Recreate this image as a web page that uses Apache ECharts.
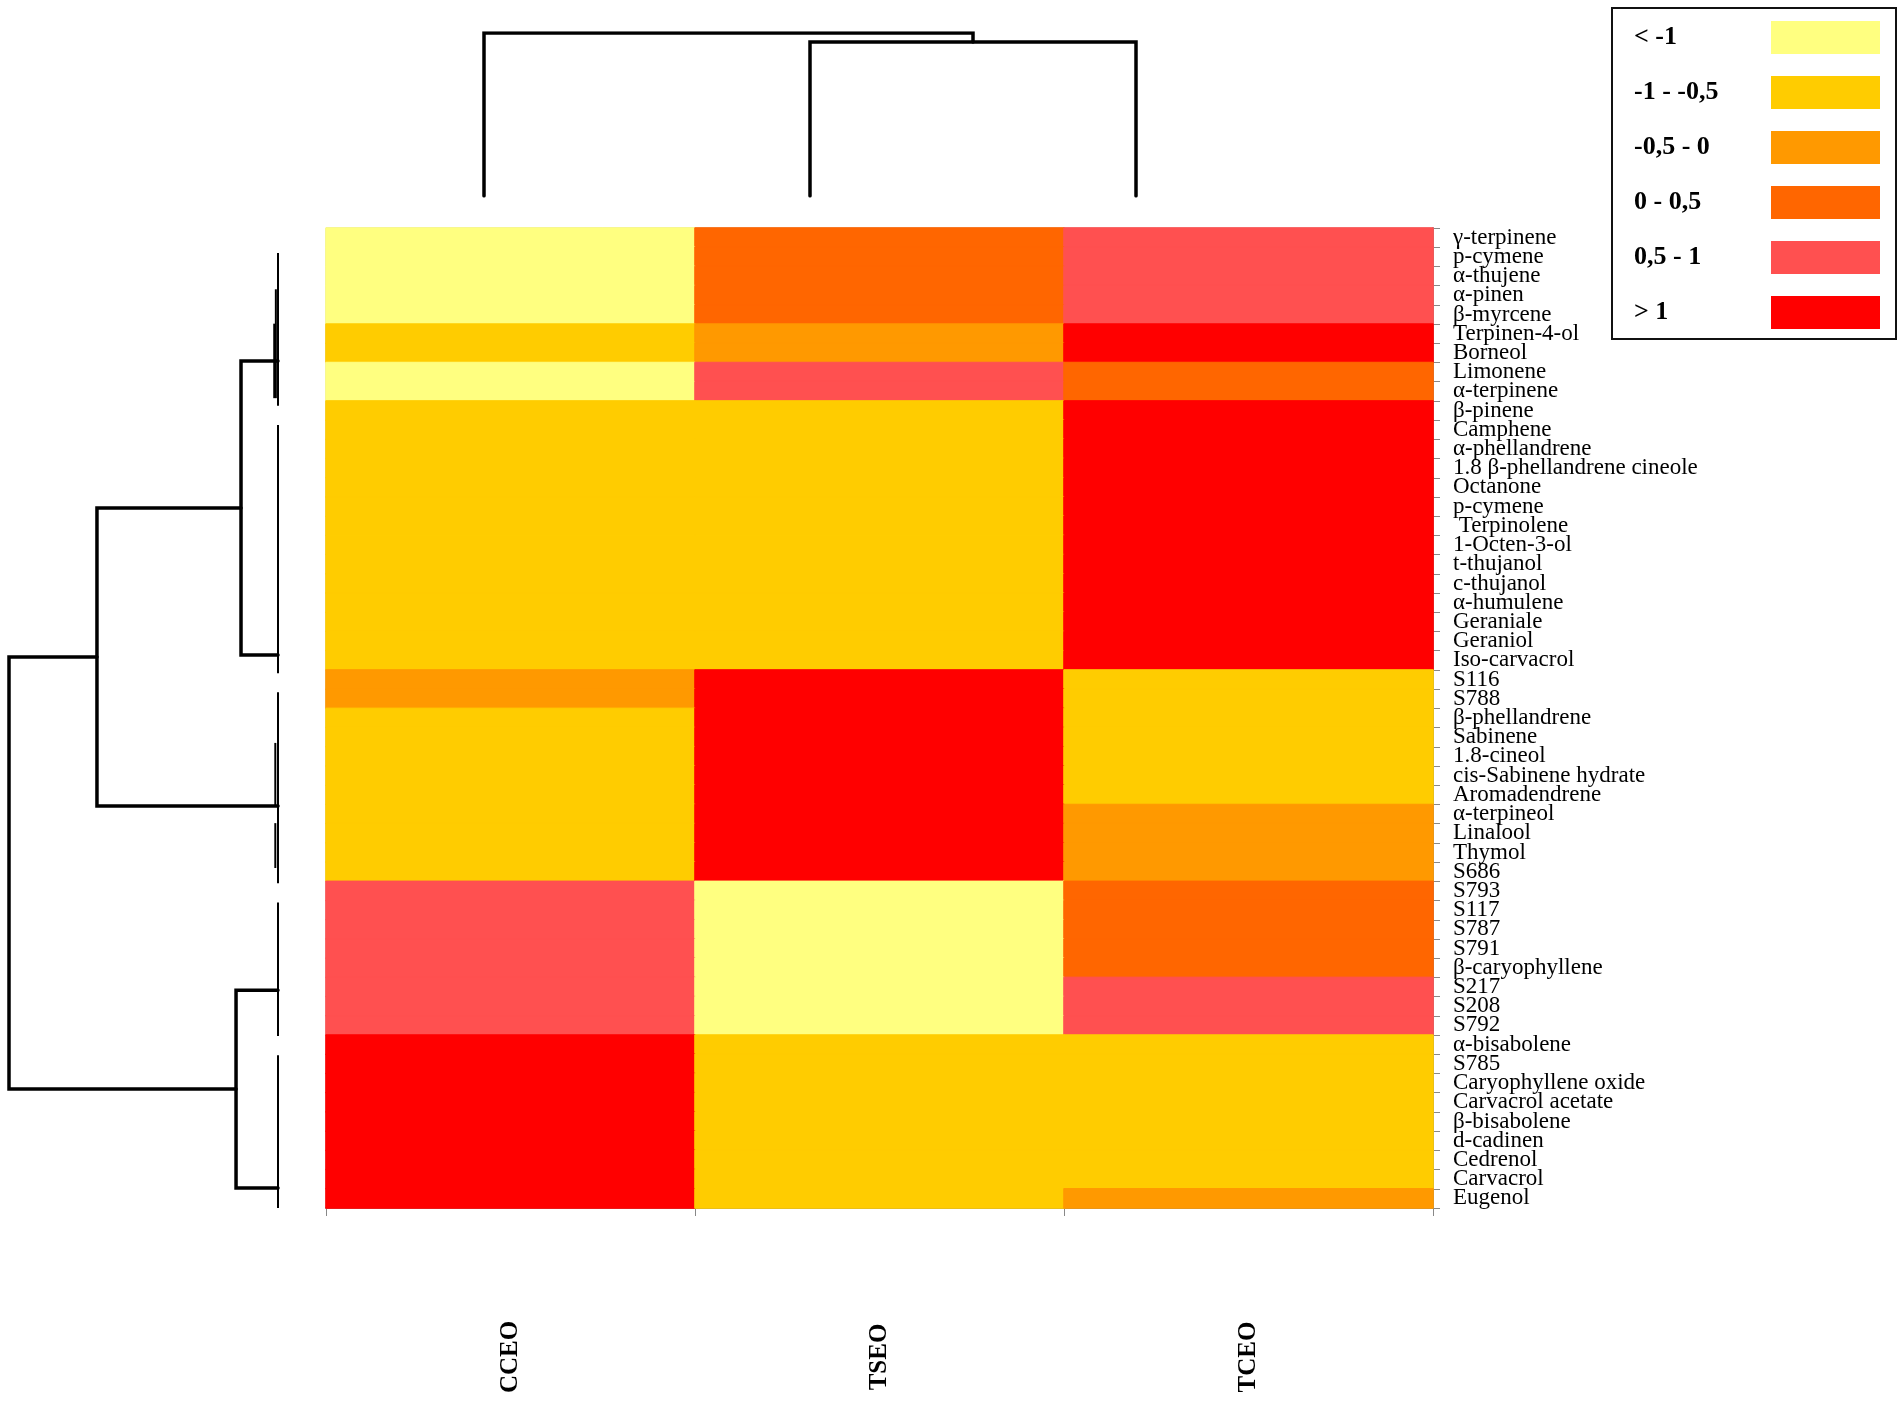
<!DOCTYPE html>
<html>
<head>
<meta charset="utf-8">
<script src="https://cdn.jsdelivr.net/npm/echarts@6/dist/echarts.min.js"></script>
<style>
html, body { margin: 0; padding: 0; background: #fff; }
#main { width: 1902px; height: 1401px; }
</style>
</head>
<body>
<div id="main"></div>
<script>
// essential oils (columns)
var samples = ['CCEO', 'TSEO', 'TCEO'];

// compounds (rows, top to bottom)
var compounds = ['γ-terpinene', 'p-cymene', 'α-thujene', 'α-pinen', 'β-myrcene', 'Terpinen-4-ol', 'Borneol',
    'Limonene', 'α-terpinene', 'β-pinene', 'Camphene', 'α-phellandrene', '1.8 β-phellandrene cineole', 'Octanone',
    'p-cymene', ' Terpinolene', '1-Octen-3-ol', 't-thujanol', 'c-thujanol', 'α-humulene', 'Geraniale', 'Geraniol',
    'Iso-carvacrol', 'S116', 'S788', 'β-phellandrene', 'Sabinene', '1.8-cineol', 'cis-Sabinene hydrate',
    'Aromadendrene', 'α-terpineol', 'Linalool', 'Thymol', 'S686', 'S793', 'S117', 'S787', 'S791',
    'β-caryophyllene', 'S217', 'S208', 'S792', 'α-bisabolene', 'S785', 'Caryophyllene oxide',
    'Carvacrol acetate', 'β-bisabolene', 'd-cadinen', 'Cedrenol', 'Carvacrol', 'Eugenol'];

// class of each cell: 0 '< -1', 1 '-1 - -0,5', 2 '-0,5 - 0', 3 '0 - 0,5', 4 '0,5 - 1', 5 '> 1'
var cceo = [0, 0, 0, 0, 0, 1, 1, 0, 0, 1, 1, 1, 1, 1, 1, 1, 1, 1, 1, 1, 1, 1, 1, 2, 2, 1,
    1, 1, 1, 1, 1, 1, 1, 1, 4, 4, 4, 4, 4, 4, 4, 4, 5, 5, 5, 5, 5, 5, 5, 5, 5];
var tseo = [3, 3, 3, 3, 3, 2, 2, 4, 4, 1, 1, 1, 1, 1, 1, 1, 1, 1, 1, 1, 1, 1, 1, 5, 5, 5,
    5, 5, 5, 5, 5, 5, 5, 5, 0, 0, 0, 0, 0, 0, 0, 0, 1, 1, 1, 1, 1, 1, 1, 1, 1];
var tceo = [4, 4, 4, 4, 4, 5, 5, 3, 3, 5, 5, 5, 5, 5, 5, 5, 5, 5, 5, 5, 5, 5, 5, 1, 1, 1,
    1, 1, 1, 1, 2, 2, 2, 2, 3, 3, 3, 3, 3, 4, 4, 4, 1, 1, 1, 1, 1, 1, 1, 1, 2];

var classLabels = ['< -1', '-1 - -0,5', '-0,5 - 0', '0 - 0,5', '0,5 - 1', '> 1'];
var classColors = ['#FFFF80', '#FFCC00', '#FF9900', '#FF6600', '#FF5050', '#FF0000'];

// column dendrogram: [leftPos, leftHeight, rightPos, rightHeight, mergeHeight]
var colLinks = [
    [1, 0, 2, 0, 9.45],
    [0, 0, 1.5, 9.45, 10]
];

// row dendrogram: [leafIdxA, distA, leafIdxB, distB, mergeDist]
var rowLinks = [
    [5.65, 0, 21.05, 0, 1.375],
    [13.35, 1.375, 28.95, 0, 6.73],
    [38.6, 0, 48.95, 0, 1.56],
    [21.15, 6.73, 43.775, 1.56, 10]
];
// near-zero leaf merges: [fromIdx, toIdx, dist]
var rowLeafRuns = [
    [0, 8, 0], [1.9, 7.6, 0.08], [3.7, 7.6, 0.14],
    [9, 22, 0],
    [23, 33, 0], [25.65, 28.95, 0.1], [29.85, 32.2, 0.1],
    [34, 41, 0],
    [42, 50, 0]
];

var serif = "'Liberation Serif', 'Times New Roman', serif";

// 热图数据 + 同色描边，盖住格子间的细缝
var cols = [cceo, tseo, tceo];
var heatData = [];
for (var r = 0; r < compounds.length; r++) {
    for (var c = 0; c < samples.length; c++) {
        var v = cols[c][r];
        heatData.push({ value: [c, r, v], itemStyle: { borderColor: classColors[v], borderWidth: 1 } });
    }
}

var colLinkData = colLinks.map(function (l) {
    return { coords: [[l[0], l[1]], [l[0], l[4]], [l[2], l[4]], [l[2], l[3]]] };
});
var rowLinkData = rowLinks.map(function (l) {
    return { coords: [[l[1], l[0]], [l[4], l[0]], [l[4], l[2]], [l[3], l[2]]] };
});
var rowLeafData = rowLeafRuns.map(function (l) {
    return { coords: [[l[2], l[0]], [l[2], l[1]]] };
});

var chart = echarts.init(document.getElementById('main'));

var option = {
    backgroundColor: '#fff',
    animation: false,
    grid: [
        { left: 326, top: 228, width: 1107, height: 980, show: true, borderColor: '#aaa', borderWidth: 1 },
        { left: 484, top: 33, width: 652, height: 163 },
        { left: 9, top: 253, width: 269, height: 955 }
    ],
    xAxis: [
        {
            type: 'category', gridIndex: 0, data: samples, position: 'bottom',
            axisLine: { lineStyle: { color: '#888', width: 2 } },
            axisTick: { show: true, length: 8, lineStyle: { color: '#888', width: 1 } },
            axisLabel: {
                rotate: 90, align: 'center', verticalAlign: 'middle', margin: 149,
                fontFamily: serif, fontWeight: 'bold', fontSize: 25, color: '#000'
            },
            splitLine: { show: false }
        },
        { type: 'value', gridIndex: 1, min: 0, max: 2, show: false },
        { type: 'value', gridIndex: 2, min: 0, max: 10, inverse: true, show: false }
    ],
    yAxis: [
        {
            type: 'category', gridIndex: 0, data: compounds, inverse: true, position: 'right',
            axisLine: { lineStyle: { color: '#888', width: 2 } },
            axisTick: { show: true, length: 7, interval: 0, lineStyle: { color: '#888', width: 1 } },
            axisLabel: { interval: 0, margin: 20, fontFamily: serif, fontSize: 23, color: '#000' },
            splitLine: { show: false }
        },
        { type: 'value', gridIndex: 1, min: 0, max: 10, show: false },
        { type: 'value', gridIndex: 2, min: 0, max: 50, inverse: true, show: false }
    ],
    visualMap: {
        type: 'piecewise',
        seriesIndex: 0,
        dimension: 2,
        orient: 'vertical',
        inverse: true,
        left: 1611,
        top: 7,
        itemWidth: 109,
        itemHeight: 33,
        itemGap: 22,
        itemSymbol: 'rect',
        align: 'right',
        textGap: 10,
        padding: [13, 16, 10, 22],
        borderColor: '#111',
        borderWidth: 2,
        backgroundColor: '#fff',
        selectedMode: false,
        hoverLink: false,
        pieces: classLabels.map(function (lab, i) {
            return { value: i, label: '{t|' + lab + '}', color: classColors[i] };
        }),
        textStyle: {
            rich: {
                t: { width: 127, align: 'left', fontFamily: serif, fontWeight: 'bold', fontSize: 26, color: '#000' }
            }
        }
    },
    series: [
        {
            type: 'heatmap',
            xAxisIndex: 0,
            yAxisIndex: 0,
            data: heatData,
            silent: true,
            emphasis: { disabled: true }
        },
        {
            type: 'lines',
            coordinateSystem: 'cartesian2d',
            xAxisIndex: 1,
            yAxisIndex: 1,
            polyline: true,
            silent: true,
            lineStyle: { color: '#000', width: 3.5, opacity: 1, cap: 'round' },
            data: colLinkData
        },
        {
            type: 'lines',
            coordinateSystem: 'cartesian2d',
            xAxisIndex: 2,
            yAxisIndex: 2,
            polyline: true,
            silent: true,
            lineStyle: { color: '#000', width: 3.5, opacity: 1, cap: 'round' },
            data: rowLinkData
        },
        {
            type: 'lines',
            coordinateSystem: 'cartesian2d',
            xAxisIndex: 2,
            yAxisIndex: 2,
            polyline: true,
            silent: true,
            lineStyle: { color: '#000', width: 2, opacity: 1 },
            data: rowLeafData
        }
    ]
};
chart.setOption(option);
</script>
</body>
</html>
